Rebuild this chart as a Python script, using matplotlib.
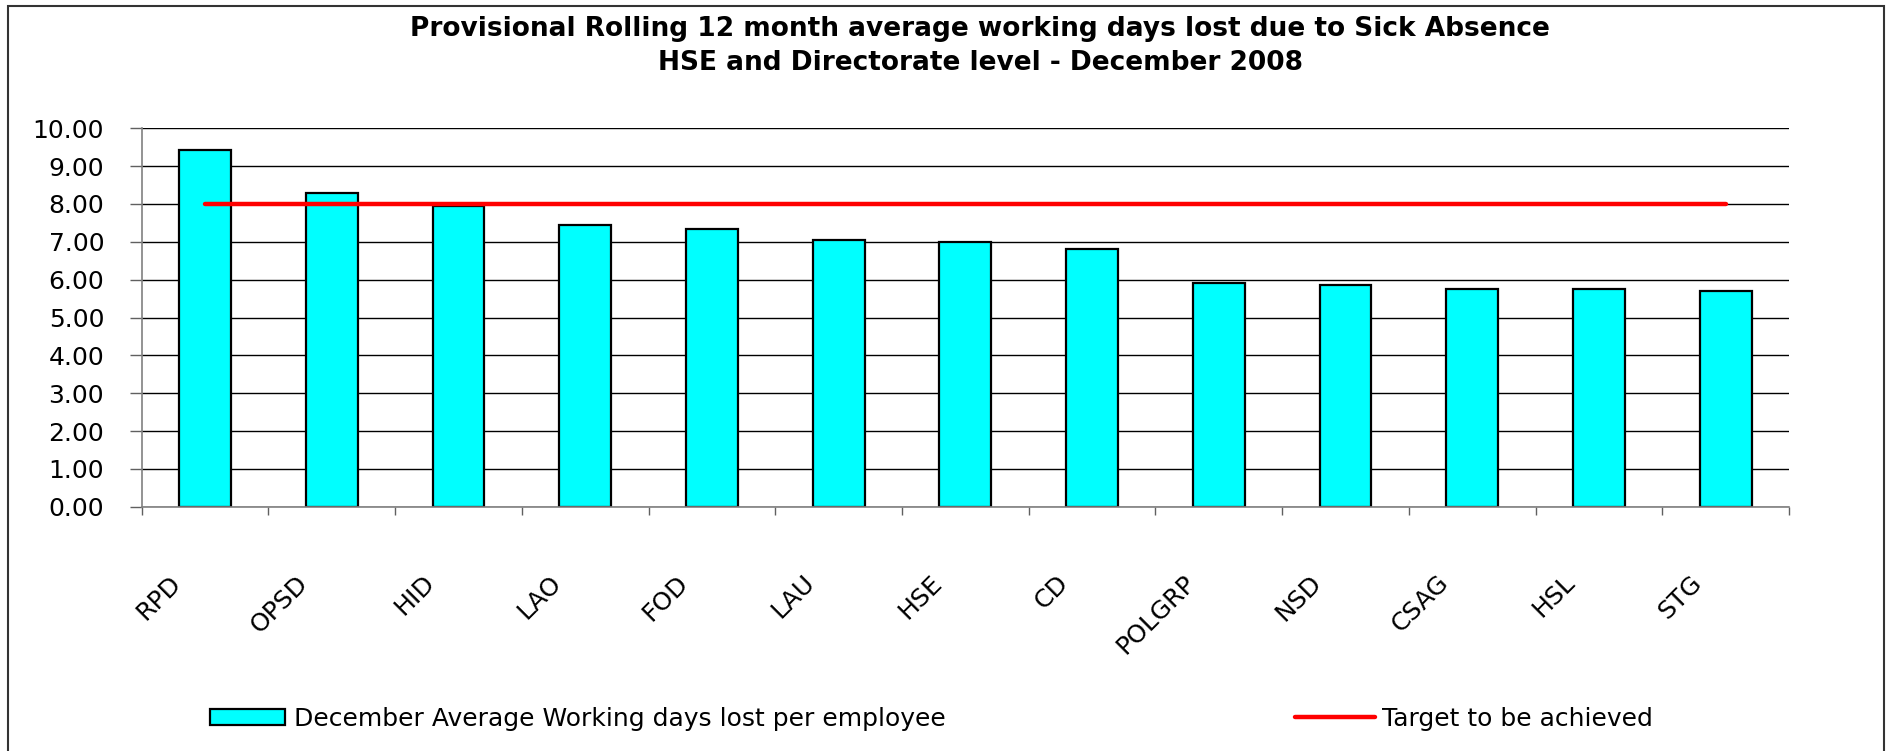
import numpy as np
import matplotlib
matplotlib.use("Agg")
import matplotlib.pyplot as plt
from matplotlib.patches import Rectangle
from matplotlib.lines import Line2D
from matplotlib.transforms import ScaledTranslation

# ---- data ----
categories = ["RPD", "OPSD", "HID", "LAO", "FOD", "LAU", "HSE", "CD",
              "POLGRP", "NSD", "CSAG", "HSL", "STG"]
days_lost = [9.43, 8.30, 7.94, 7.44, 7.33, 7.05, 7.00, 6.82,
             5.90, 5.85, 5.75, 5.75, 5.69]
target = [8.0, 8.0, 8.0, 8.0, 8.0, 8.0, 8.0, 8.0, 8.0, 8.0, 8.0, 8.0, 8.0]
y_ticks = [0, 1, 2, 3, 4, 5, 6, 7, 8, 9, 10]
y_tick_labels = ["0.00", "1.00", "2.00", "3.00", "4.00", "5.00", "6.00",
                 "7.00", "8.00", "9.00", "10.00"]
title_text = ("Provisional Rolling 12 month average working days lost due to Sick Absence\n"
              "HSE and Directorate level - December 2008")
bar_label = "December Average Working days lost per employee"
line_label = "Target to be achieved"

plt.rcParams['font.family'] = ['DejaVu Sans']
FS = 18

W, H = 1889, 751
fig = plt.figure(figsize=(W / 100, H / 100), dpi=100)
fig.patch.set_facecolor('white')

left, right = 141.7 / W, 1789 / W
top, bottom = 1 - 128.3 / H, 1 - 506.7 / H
ax = fig.add_axes([left, bottom, right - left, top - bottom])

x = np.arange(len(categories))

ax.set_axisbelow(True)
ax.yaxis.grid(True, color='black', linewidth=1.0)
ax.bar(x, days_lost, width=0.41, color='#00FFFF', edgecolor='black',
       linewidth=1.6, zorder=2)
ax.plot(x, target, color='#FF0000', linewidth=3.2, solid_capstyle='round', zorder=3)

ax.set_xlim(-0.5, len(categories) - 0.5)
ax.set_ylim(0, 10)

for s in ['top', 'right']:
    ax.spines[s].set_visible(False)
ax.spines['left'].set_color('#808080')
ax.spines['bottom'].set_color('#808080')
ax.spines['left'].set_linewidth(1.2)
ax.spines['bottom'].set_linewidth(1.2)

ax.set_yticks(y_ticks)
ax.set_yticklabels(y_tick_labels, fontsize=FS)
ax.tick_params(axis='y', direction='out', length=9, width=1.0, color='#606060',
               pad=18)

major_x = np.arange(-0.5, len(categories), 1.0)
ax.set_xticks(major_x)
ax.set_xticklabels([''] * len(major_x))
ax.tick_params(axis='x', which='major', direction='out', length=6, width=1.0,
               color='#606060')
ax.set_xticks(x, minor=True)
ax.set_xticklabels(categories, minor=True, rotation=45, ha='right', va='top',
                   fontsize=FS)
ax.tick_params(axis='x', which='minor', length=0, pad=46)
for lab in ax.get_xticklabels(minor=True):
    lab.set_transform(lab.get_transform() + ScaledTranslation(-0.19, 0, fig.dpi_scale_trans))

# title
fig.text(980 / W, 1 - 46 / H, title_text, ha='center', va='center',
         fontsize=19, fontweight='bold', linespacing=1.45)

# legends
h1 = Rectangle((0, 0), 1, 1, facecolor='#00FFFF', edgecolor='black', linewidth=1.6)
h2 = Line2D([0], [0], color='#FF0000', linewidth=3.2, solid_capstyle='round')
leg1 = fig.legend([h1], [bar_label], loc='center left',
                  bbox_to_anchor=(210 / W, 1 - 719 / H), frameon=False,
                  fontsize=FS, borderpad=0, borderaxespad=0,
                  handlelength=3.0, handletextpad=0.35, handleheight=0.6)
leg2 = fig.legend([h2], [line_label], loc='center left',
                  bbox_to_anchor=(1295 / W, 1 - 719 / H), frameon=False,
                  fontsize=FS, borderpad=0, borderaxespad=0,
                  handlelength=3.2, handletextpad=0.28)

# outer frame
fig.patches.append(Rectangle((8 / W, -0.05), (1884 - 8) / W, 1.05 - 6 / H,
                             transform=fig.transFigure, fill=False,
                             edgecolor='#333333', linewidth=1.5))

fig.savefig('out.png', dpi=100)
